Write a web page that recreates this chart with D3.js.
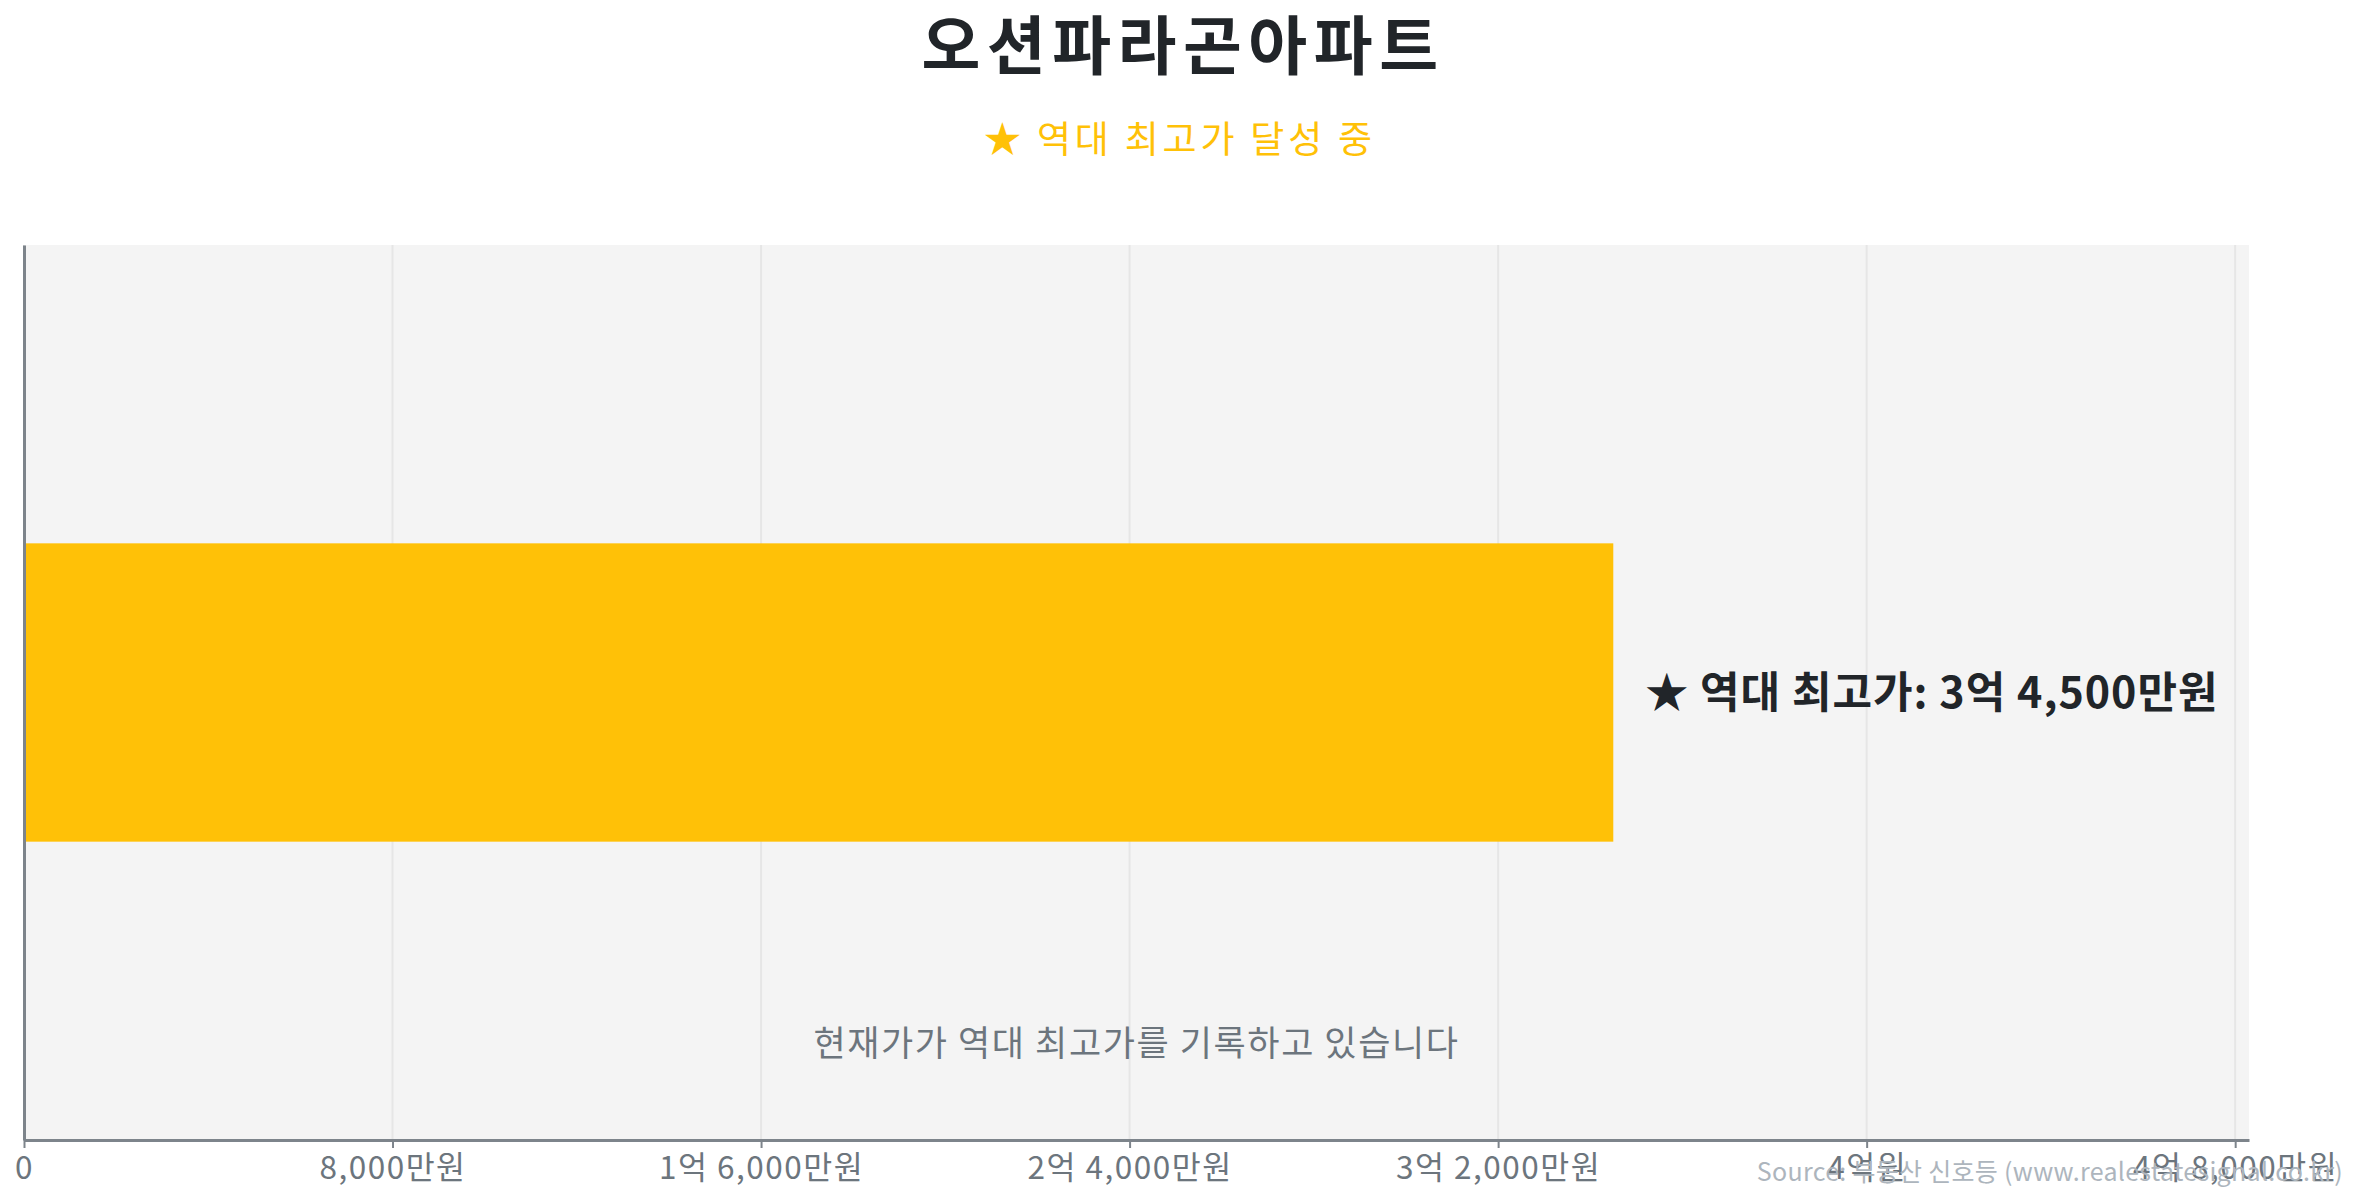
<!DOCTYPE html>
<html>
<head>
<meta charset="utf-8">
<script src="https://cdn.jsdelivr.net/npm/d3@7"></script>
<style>
  body { margin: 0; background: #fff; }
  text { font-family: "Noto Sans CJK KR", "Noto Sans", sans-serif; }
</style>
</head>
<body>
<div id="chart"></div>
<script>
// 단위: 만원
const aptName = "오션파라곤아파트";
const categories = ["현재가"];
const prices = [34500];
const highestPrice = 34500;
const tickValues = [0, 8000, 16000, 24000, 32000, 40000, 48000];
const subtitle = "★ 역대 최고가 달성 중";
const note = "현재가가 역대 최고가를 기록하고 있습니다";
const source = "Source: 부동산 신호등 (www.realestatesignal.co.kr)";

function fmtWon(v) {
  if (v === 0) return "0";
  const eok = Math.floor(v / 10000), man = v % 10000;
  if (eok && man) return `${eok}억 ${d3.format(",")(man)}만원`;
  if (eok) return `${eok}억원`;
  return `${d3.format(",")(man)}만원`;
}

(function () {
  const width = 2355, height = 1200;
  const margin = { top: 245, right: 106, bottom: 60, left: 24 };
  const iw = width - margin.left - margin.right;
  const ih = height - margin.top - margin.bottom;

  const svg = d3.select("#chart").append("svg")
    .attr("width", width)
    .attr("height", height);

  svg.append("text")
    .attr("x", 1183).attr("y", 69)
    .attr("text-anchor", "middle")
    .style("font-size", "64px").style("font-weight", "700")
    .style("letter-spacing", "6.5px")
    .attr("fill", "#212529")
    .text(aptName);

  svg.append("text")
    .attr("x", 1180).attr("y", 153)
    .attr("text-anchor", "middle")
    .style("font-size", "37px")
    .style("letter-spacing", "3.8px")
    .attr("fill", "#FFC107")
    .text(subtitle);

  const g = svg.append("g").attr("transform", `translate(${margin.left},${margin.top})`);

  const x = d3.scaleLinear().domain([0, highestPrice * 1.4]).range([0, iw]);
  const y = d3.scaleBand().domain(categories).range([0, ih]).padding(0.5);

  g.append("rect")
    .attr("width", iw).attr("height", ih)
    .attr("fill", "#f4f4f4");

  g.append("g")
    .selectAll("line")
    .data(tickValues)
    .enter().append("line")
    .attr("x1", d => x(d)).attr("x2", d => x(d))
    .attr("y1", 0).attr("y2", ih)
    .attr("stroke", "#e6e6e6").attr("stroke-width", 2);

  g.selectAll(".bar")
    .data(prices)
    .enter().append("rect")
    .attr("class", "bar")
    .attr("x", 0)
    .attr("y", (d, i) => y(categories[i]))
    .attr("width", d => x(d))
    .attr("height", y.bandwidth())
    .attr("fill", "#FFC107");

  g.selectAll(".bar-label")
    .data(prices)
    .enter().append("text")
    .attr("x", d => x(d) + 32)
    .attr("y", (d, i) => y(categories[i]) + y.bandwidth() / 2)
    .attr("dy", "0.35em")
    .style("font-size", "43px").style("font-weight", "700")
    .style("letter-spacing", "1px")
    .attr("fill", "#212529")
    .text(d => `★ 역대 최고가: ${fmtWon(d)}`);

  g.append("text")
    .attr("x", iw / 2).attr("y", ih - 84)
    .attr("text-anchor", "middle")
    .style("font-size", "35px")
    .style("letter-spacing", "1.6px")
    .attr("fill", "#6c757d")
    .text(note);

  const xAxis = g.append("g")
    .attr("transform", `translate(0,${ih})`)
    .call(d3.axisBottom(x).tickValues(tickValues).tickFormat(fmtWon).tickSize(8).tickSizeOuter(0));
  xAxis.select(".domain").attr("stroke", "#7d848b").attr("stroke-width", 3);
  xAxis.selectAll(".tick line").attr("stroke", "#7d848b").attr("stroke-width", 2);
  xAxis.selectAll(".tick text")
    .attr("fill", "#6c757d")
    .attr("dy", "0.9em")
    .style("font-size", "31.5px")
    .style("letter-spacing", "1.5px")
    .style("font-family", "'Noto Sans CJK KR', sans-serif");

  const yAxis = g.append("g")
    .call(d3.axisLeft(y).tickSize(0).tickFormat(""));
  yAxis.select(".domain").attr("stroke", "#7d848b").attr("stroke-width", 3);

  svg.append("text")
    .attr("x", 2343).attr("y", 1181)
    .attr("text-anchor", "end")
    .style("font-size", "25px")
    .style("letter-spacing", "0.3px")
    .attr("fill", "#adb5bd")
    .text(source);
})();
</script>
</body>
</html>
